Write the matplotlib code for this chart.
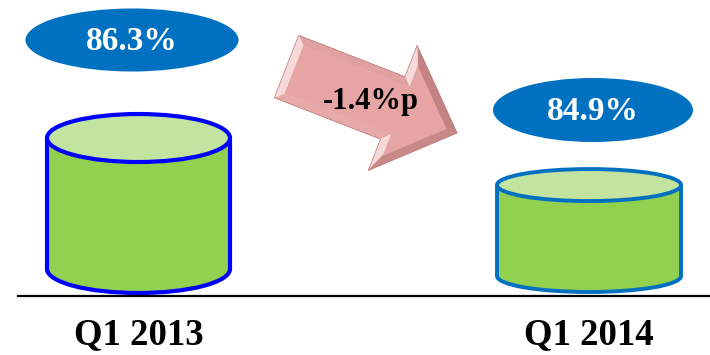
import numpy as np
import matplotlib.pyplot as plt
from matplotlib.patches import Ellipse, Rectangle, Polygon
from matplotlib.colors import to_rgb

labels = ['Q1 2013', 'Q1 2014']
values = [86.3, 84.9]

# 画布按像素布置, 1 单位 = 1 像素
W, H = 710, 355
fig = plt.figure(figsize=(W / 100, H / 100), dpi=100)
ax = fig.add_axes([0, 0, 1, 1])
ax.set_xlim(0, W)
ax.set_ylim(H, 0)
ax.axis('off')

# 布局参数
xc = [138.5, 589]
bottom = [269, 276]
ry = [24, 16]
cyl_w = [183, 184]
edge = ['#0000FF', '#0070C0']
bubble_xy = [(132, 40), (593, 110)]
bubble_wh = [(213, 63), (200, 64)]
px_per_pt = 28.6     # 每个百分点对应的像素
base = 81.72         # 断轴的起点
serif = 'Liberation Serif'


'''
画圆柱: 底面椭圆 + 柱身 + 顶面椭圆
'''
def cylinder(ax, x, yb, h, w, r, ec, lw=3):
    yt = yb - h
    ax.add_patch(Ellipse((x, yb), w, 2 * r, fc='#92D050', ec=ec, lw=lw, zorder=2))
    ax.add_patch(Rectangle((x - w / 2, yt), w, h, fc='#92D050', ec='none', zorder=3))
    for sx in (x - w / 2, x + w / 2):
        ax.plot([sx, sx], [yt, yb], color=ec, lw=lw, zorder=4, solid_capstyle='butt')
    ax.add_patch(Ellipse((x, yt), w, 2 * r, fc='#C3E3A0', ec=ec, lw=lw, zorder=5))


'''
多边形向内收缩 d (逆时针顶点)
'''
def offset_poly(pts, d):
    n = len(pts)
    lines = []
    for i in range(n):
        p, q = pts[i], pts[(i + 1) % n]
        t = (q - p) / np.linalg.norm(q - p)
        lines.append((p + np.array([-t[1], t[0]]) * d, t))
    out = []
    for i in range(n):
        p1, t1 = lines[i - 1]
        p2, t2 = lines[i]
        s = np.linalg.solve(np.array([t1, -t2]).T, p2 - p1)
        out.append(p1 + s[0] * t1)
    return np.array(out)


def mix(c1, c2, a):
    c1, c2 = np.array(to_rgb(c1)), np.array(to_rgb(c2))
    return tuple(c1 * (1 - a) + c2 * a)


'''
带斜角的立体箭头
'''
def bevel_arrow(ax, tail, tip, w, wh, ls, d=8):
    tail, tip = np.array(tail, float), np.array(tip, float)
    L = np.linalg.norm(tip - tail)
    u = (tip - tail) / L
    v = np.array([u[1], -u[0]])          # 屏幕上的"上"方向
    loc = np.array([[0, -w], [ls, -w], [ls, -wh], [L, 0],
                    [ls, wh], [ls, w], [0, w]], float)
    inner = offset_poly(loc, d)
    to_scr = lambda p: tail + p[:, :1] * u + p[:, 1:] * v
    outer_s, inner_s = to_scr(loc), to_scr(inner)
    face = '#E6A4A4'
    light = np.array([-0.96, -0.29])
    n = len(loc)
    for i in range(n):
        j = (i + 1) % n
        t = loc[j] - loc[i]
        t = t / np.linalg.norm(t)
        nl = np.array([t[1], -t[0]])
        ns = nl[0] * u + nl[1] * v
        k = float(np.dot(ns, light))
        col = mix(face, '#FBE6E6', 0.8 * k) if k > 0 else mix(face, '#9A5C5C', -0.6 * k)
        quad = np.array([outer_s[i], outer_s[j], inner_s[j], inner_s[i]])
        ax.add_patch(Polygon(quad, closed=True, fc=col, ec=col, lw=0.5, zorder=6))
    ax.add_patch(Polygon(inner_s, closed=True, fc=face, ec='none', zorder=7))
    ax.add_patch(Polygon(outer_s, closed=True, fc='none', ec='#B88080', lw=0.5, zorder=8))


for i in range(len(values)):
    h = (values[i] - base) * px_per_pt
    cylinder(ax, xc[i], bottom[i], h, cyl_w[i], ry[i], edge[i], lw=3 if i == 0 else 2.8)
    bx, by = bubble_xy[i]
    bw, bh = bubble_wh[i]
    ax.add_patch(Ellipse((bx, by), bw, bh, fc='#0070C0', ec='none', zorder=5))
    ax.text(bx, by + 1, '{:.1f}%'.format(values[i]), color='white', fontsize=24,
            fontweight='bold', family=serif, ha='center', va='center', zorder=9)
    ax.text(xc[i], 344, labels[i], color='black', fontsize=26.5, fontweight='bold',
            family=serif, ha='center', va='baseline', zorder=9)

# 基线
ax.plot([18, W], [296, 296], color='black', lw=1.6, zorder=10)

# 变化箭头
bevel_arrow(ax, (286.5, 66.5), (457, 133), 33.5, 67, 114)
diff = values[1] - values[0]
ax.text(371, 102, '{:.1f}%p'.format(diff), color='black', fontsize=22,
        fontweight='bold', family=serif, ha='center', va='center', zorder=9)

fig.savefig('out.png', dpi=100)
